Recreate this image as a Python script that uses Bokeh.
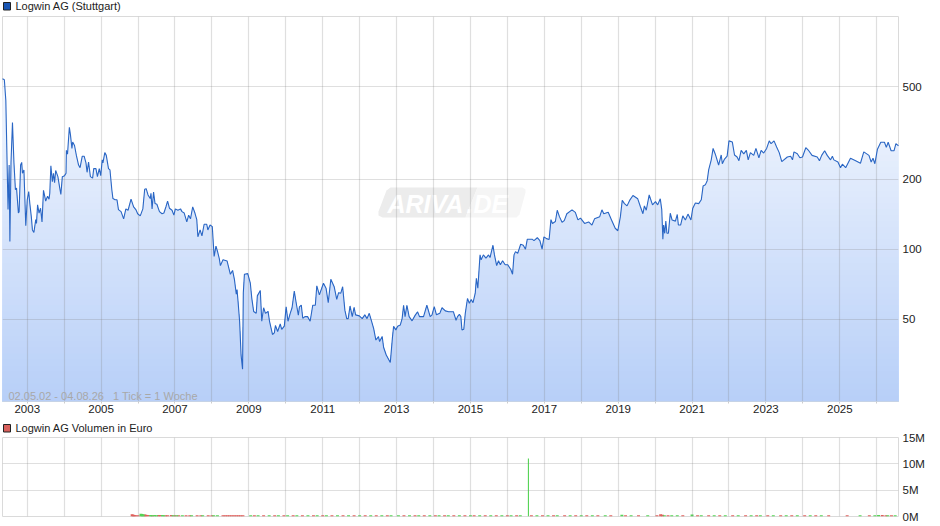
import numpy as np
from bokeh.plotting import figure
from bokeh.layouts import column
from bokeh.models import Range1d, FixedTicker, Label, PolyAnnotation, BoxAnnotation
from bokeh.embed import file_html
from bokeh.resources import INLINE

dates = [2002.33,2002.38,2002.42,2002.48,2002.51,2002.53,2002.56,2002.60,2002.64,2002.68,2002.71,2002.76,2002.78,2002.82,2002.85,2002.87,2002.91,2002.96,
2003.00,2003.04,2003.07,2003.11,2003.14,2003.18,2003.23,2003.25,2003.28,2003.32,2003.36,2003.40,2003.44,2003.50,2003.55,2003.59,2003.61,2003.64,2003.68,2003.71,2003.74,2003.77,2003.83,2003.88,2003.91,2003.95,
2004.01,2004.05,2004.06,2004.09,2004.14,2004.17,2004.21,2004.23,2004.28,2004.33,2004.39,2004.43,2004.49,2004.54,2004.59,2004.62,2004.66,2004.71,2004.77,2004.80,2004.86,2004.90,2004.95,2004.99,
2005.03,2005.05,2005.10,2005.14,2005.20,2005.24,2005.29,2005.32,2005.38,2005.43,2005.47,2005.54,2005.61,2005.67,2005.73,2005.81,2005.88,2005.94,2005.99,
2006.06,2006.13,2006.18,2006.22,2006.27,2006.33,2006.35,2006.38,2006.42,2006.46,2006.51,2006.58,2006.65,2006.70,2006.76,2006.80,2006.85,2006.92,2006.97,
2007.01,2007.08,2007.15,2007.19,2007.25,2007.32,2007.37,2007.42,2007.48,2007.54,2007.59,2007.62,2007.68,2007.73,2007.79,2007.86,2007.89,2007.95,
2008.01,2008.06,2008.11,2008.15,2008.20,2008.23,2008.30,2008.41,2008.45,2008.50,2008.56,2008.61,2008.66,2008.68,2008.71,2008.75,2008.79,2008.83,2008.85,2008.88,2008.97,
2009.04,2009.08,2009.13,2009.20,2009.23,2009.31,2009.35,2009.40,2009.45,2009.52,2009.56,2009.64,2009.69,2009.72,2009.78,2009.85,2009.89,2009.96,
2010.01,2010.06,2010.12,2010.17,2010.23,2010.28,2010.34,2010.37,2010.42,2010.46,2010.52,2010.59,2010.66,2010.73,2010.80,2010.84,2010.91,
2011.02,2011.09,2011.15,2011.22,2011.31,2011.38,2011.43,2011.49,2011.54,2011.60,2011.65,2011.69,2011.74,2011.80,2011.85,2011.89,2011.99,
2012.07,2012.14,2012.20,2012.26,2012.32,2012.38,2012.44,2012.51,2012.54,2012.61,2012.65,2012.72,2012.83,2012.89,2012.92,2012.98,
2013.03,2013.10,2013.15,2013.19,2013.23,2013.28,2013.34,2013.42,2013.51,2013.57,2013.62,2013.73,2013.82,2013.91,2013.96,
2014.02,2014.08,2014.17,2014.23,2014.32,2014.41,2014.54,2014.61,2014.65,2014.70,2014.74,2014.77,2014.82,2014.86,2014.92,2014.97,
2015.02,2015.07,2015.13,2015.16,2015.20,2015.26,2015.29,2015.35,2015.42,2015.49,2015.53,2015.61,2015.65,2015.71,2015.76,2015.81,2015.87,2015.94,
2016.01,2016.09,2016.14,2016.18,2016.22,2016.28,2016.36,2016.43,2016.49,2016.54,2016.67,2016.72,2016.81,2016.88,2016.94,2016.99,
2017.06,2017.13,2017.18,2017.22,2017.30,2017.35,2017.41,2017.48,2017.54,2017.61,2017.75,2017.84,2017.91,2017.98,
2018.09,2018.20,2018.29,2018.36,2018.50,2018.56,2018.61,2018.73,2018.82,2018.92,2018.99,
2019.06,2019.11,2019.17,2019.24,2019.31,2019.40,2019.53,2019.60,2019.67,2019.71,2019.76,2019.84,2019.93,
2020.01,2020.07,2020.14,2020.18,2020.21,2020.23,2020.26,2020.29,2020.32,2020.36,2020.41,2020.46,2020.55,2020.60,2020.63,2020.69,2020.75,2020.82,2020.89,2020.97,
2021.02,2021.09,2021.18,2021.25,2021.30,2021.36,2021.41,2021.45,2021.52,2021.57,2021.63,2021.72,2021.79,2021.82,2021.88,2021.95,
2022.00,2022.09,2022.15,2022.22,2022.27,2022.33,2022.40,2022.47,2022.52,2022.58,2022.67,2022.73,2022.81,2022.87,2022.94,
2023.02,2023.09,2023.14,2023.22,2023.29,2023.36,2023.43,2023.58,2023.67,2023.72,2023.76,2023.85,2023.92,2023.99,
2024.08,2024.16,2024.25,2024.39,2024.45,2024.51,2024.59,2024.66,2024.75,2024.80,2024.84,2024.95,
2025.02,2025.07,2025.16,2025.29,2025.43,2025.56,2025.65,2025.79,2025.85,2025.90,2025.95,
2026.02,2026.11,2026.21,2026.26,2026.31,2026.39,2026.47,2026.52,2026.59]

prices = [540,535,436,148,230,108,235,350,235,180,183,143,145,230,236,212,219,126,
163,177,157,138,121,118,134,129,155,143,150,131,179,161,169,164,174,228,195,212,193,218,205,183,172,205,
207,212,266,256,334,310,271,289,279,253,230,224,251,251,235,214,237,205,202,222,222,205,222,207,
242,235,260,253,222,219,180,165,163,163,148,145,135,149,147,164,152,148,142,
139,149,181,182,171,165,174,149,176,157,156,145,142,143,153,161,150,147,140,
149,147,149,145,143,131,140,135,152,143,134,113,121,114,128,128,121,127,
125,93,103,98,91,85,90,89,84,78,81,74,64,67,59,49,35,30.5,65,78,78.5,
71.4,61.5,54,53,63,66.5,49,56,53,54,49,43,43.7,47,44.3,47.7,45.2,46.7,
56.5,49,53,56,66,59,52,56.5,57.5,50.5,51.3,51.3,49,57.4,57.4,69.6,63.6,
71.4,68,58.9,74.3,69,60.8,65,64.7,69,54.7,50.3,50.3,57,51.3,56.3,52.2,51.7,
50.3,52.2,50.3,53,49.2,45.6,40.7,42.1,40.1,42.1,37.8,35.1,32.6,42.1,46.6,45,
46.6,47.2,50.3,57.4,51.3,57.4,51.3,49.2,52.2,53.8,51.3,51.3,57.4,51.3,52.2,
56.6,52.2,53,56,54.3,53.8,53.8,49.5,51.3,52.5,51.3,45,45.3,53,61.4,58.6,
60.8,58.9,64.7,75,68,94.5,90,94.5,91.5,94.5,92,104,94.5,85,89.2,85.7,89.2,85.7,
85.7,82,78,94.5,97.6,95.9,105,104,100,110.4,110.4,108.8,112,108.8,100,113,
111,110,134,129,131.5,147,138,130.5,132.7,142,147.6,144,133.6,136,
129,131,127,135,138,147.6,142,144,133.6,123,120,
138,162,157,153.5,162,170,164.6,152.6,142,153.5,147,171,155,
160,155,164.6,148,110.4,127,117,132,117,117,142.7,133.5,132,141,127,127,139,133.5,141.5,133.5,
150,158,157,163,187,189,197,219,242,271,256,230,254,233,244,251,
292,289,254,249,240,266,257,266,242,260,253,271,247,266,259,
271,292,284,292,275,260,238,249,251,242,262,257,247,249,
273,265,253,249,240,253,265,253,242,251,242,237,
224,232,224,246,240,234,262,253,237,246,233,
269,288,288,274,288,265,265,284,278]

vol_up_dates = [2006.08,2006.11,2006.14,2006.34,2006.37,2006.45,2006.50,2006.66,2006.70,2006.95,2007.05,2007.20,2007.45,2007.75,2008.05,2008.15,2009.05,2009.25,2009.55,2009.80,2010.05,2010.30,2010.60,2010.85,2011.10,2011.40,2011.70,2012.00,2012.30,2012.60,2012.85,2013.05,2013.35,2013.60,2013.90,2014.15,2014.40,2014.70,2015.00,2015.25,2015.55,2015.85,2016.10,2016.35,2016.57,2016.80,2017.10,2017.35,2017.70,2018.00,2018.30,2018.65,2019.10,2019.35,2019.80,2020.25,2020.45,2020.60,2021.00,2021.25,2021.60,2021.90,2022.25,2022.60,2022.85,2023.20,2023.55,2023.85,2024.20,2024.50,2025.55,2025.95,2026.05,2026.30,2026.50]
vol_up = [0.5,0.48,0.4,0.3,0.25,0.3,0.25,0.3,0.25,0.25,0.25,0.24,0.22,0.22,0.24,0.22,0.22,0.22,0.25,0.22,0.22,0.25,0.22,0.25,0.22,0.22,0.22,0.25,0.22,0.22,0.25,0.22,0.22,0.25,0.22,0.22,0.25,0.22,0.22,0.25,0.22,0.22,0.25,0.22,11.0,0.22,0.25,0.22,0.22,0.25,0.22,0.22,0.34,0.22,0.22,0.25,0.26,0.25,0.4,0.25,0.22,0.25,0.22,0.22,0.25,0.22,0.22,0.22,0.25,0.22,0.22,0.26,0.28,0.26,0.25]

vol_down_dates = [2005.84,2005.87,2005.90,2005.94,2006.00,2006.18,2006.21,2006.27,2006.40,2006.55,2006.60,2006.75,2006.80,2006.90,2007.00,2007.10,2007.30,2007.40,2007.60,2007.70,2007.90,2008.00,2008.30,2008.36,2008.42,2008.48,2008.54,2008.60,2008.66,2008.72,2008.78,2008.84,2009.15,2009.40,2009.70,2009.95,2010.20,2010.45,2010.75,2011.00,2011.25,2011.55,2011.85,2012.15,2012.45,2012.75,2013.20,2013.50,2013.75,2014.05,2014.30,2014.55,2014.85,2015.10,2015.40,2015.70,2016.00,2016.25,2016.65,2016.95,2017.25,2017.55,2017.85,2018.15,2018.45,2018.80,2019.20,2019.55,2020.05,2020.15,2020.20,2020.35,2020.75,2021.15,2021.45,2021.75,2022.10,2022.45,2022.75,2023.05,2023.40,2023.70,2024.05,2024.35,2024.70,2025.20,2025.80,2026.15,2026.25,2026.40]
vol_down = [0.45,0.35,0.3,0.25,0.25,0.4,0.35,0.3,0.25,0.3,0.28,0.25,0.25,0.28,0.25,0.25,0.24,0.24,0.24,0.24,0.22,0.24,0.24,0.24,0.24,0.24,0.24,0.24,0.24,0.24,0.24,0.24,0.22,0.22,0.24,0.22,0.22,0.24,0.22,0.22,0.24,0.22,0.22,0.24,0.22,0.22,0.24,0.22,0.22,0.24,0.22,0.22,0.24,0.22,0.24,0.22,0.22,0.24,0.22,0.22,0.24,0.22,0.22,0.24,0.22,0.22,0.24,0.22,0.26,0.42,0.35,0.26,0.22,0.24,0.22,0.22,0.24,0.22,0.22,0.24,0.22,0.22,0.24,0.22,0.22,0.22,0.22,0.3,0.26,0.25]

year_ticks = list(range(2003, 2027))
price_ticks = [50, 100, 200, 500]
volume_ticks = [0, 5, 10, 15]
year_labels = {y: (str(y) if y % 2 else "") for y in year_ticks}
legend_price = "Logwin AG (Stuttgart)"
legend_volume = "Logwin AG Volumen in Euro"
range_note = "02.05.02 - 04.08.26\u00a0\u00a0\u00a01 Tick = 1 Woche"

FONT = "Liberation Sans"
GRID = "#808080"
GRID_ALPHA = 0.25
x_range = (2002.33, 2026.59)

def style(p):
    p.outline_line_color = "#dadada"
    p.background_fill_color = "#ffffff"
    for g in (p.xgrid, p.ygrid):
        g.grid_line_color = GRID
        g.grid_line_alpha = GRID_ALPHA
        g.grid_line_width = 1.2
        g.level = "glyph"
    p.xgrid.ticker = FixedTicker(ticks=year_ticks)
    ax = p.yaxis[0]
    ax.axis_line_color = None
    ax.major_tick_line_color = None
    ax.minor_tick_line_color = None
    ax.major_label_text_font = FONT
    ax.major_label_text_font_size = "11.5px"
    ax.major_label_text_color = "#222222"
    ax.major_tick_out = 0
    ax.major_tick_in = 0
    ax.major_label_standoff = 4

def legend_strip(height, box_top, colour, text):
    s = figure(width=940, height=height, output_backend="svg", toolbar_location=None,
               x_range=Range1d(0, 940), y_range=Range1d(0, height), x_axis_location=None, y_axis_location=None,
               min_border=0, outline_line_color=None)
    s.grid.visible = False
    s.add_layout(BoxAnnotation(left=3, right=10, top=box_top, bottom=box_top + 7.5,
                               left_units="canvas", right_units="canvas", top_units="canvas", bottom_units="canvas",
                               fill_color=colour, fill_alpha=1, line_color="#222222", line_alpha=1, line_width=1))
    s.add_layout(Label(x=15, y=box_top + 3, x_units="canvas", y_units="canvas", text=text, text_color="#222222",
                       text_font=FONT, text_font_size="11px", text_baseline="middle"))
    return s

strip1 = legend_strip(15, 2, "#1a56b4", legend_price)
strip2 = legend_strip(16, 4, "#d9605c", legend_volume)

OFF = 15  # canvas offset of the main panel below the legend strip
p1 = figure(width=940, height=405, output_backend="svg", toolbar_location=None,
            x_range=Range1d(*x_range), y_range=Range1d(22.15, 1000), y_axis_type="log",
            y_axis_location="right", min_border_left=2, min_border_right=42, min_border_top=1, min_border_bottom=19)
style(p1)
p1.border_fill_color = "#ffffff"
p1.ygrid.ticker = FixedTicker(ticks=price_ticks)
p1.yaxis[0].ticker = FixedTicker(ticks=price_ticks)
p1.yaxis[0].major_label_overrides = {t: str(t) for t in price_ticks}
xa = p1.xaxis[0]
xa.ticker = FixedTicker(ticks=year_ticks)
xa.major_label_overrides = year_labels
xa.major_label_text_font = FONT
xa.major_label_text_font_size = "11.5px"
xa.major_label_text_color = "#222222"
xa.axis_line_color = "#c6d3e6"
xa.major_tick_line_color = "#cccccc"
xa.minor_tick_line_color = None
xa.major_tick_out = 2
xa.major_tick_in = 0
xa.major_label_standoff = 1

# vertical gradient under the line, white at the top of the frame
x = np.array(dates)
y = np.array(prices, dtype=float)
bands = 64
levels = np.geomspace(1000, 22.15, bands + 1)
top_rgb = np.array([255, 255, 255])
bot_rgb = np.array([183, 207, 248])
for i in range(bands):
    if levels[i + 1] > y.max():
        continue
    t = (i + 0.5) / bands
    c = top_rgb + (bot_rgb - top_rgb) * t
    colour = "#%02x%02x%02x" % tuple(int(round(v)) for v in c)
    p1.varea(x=x, y1=22.15, y2=np.minimum(y, levels[i]), fill_color=colour, level="underlay")

# watermark
p1.add_layout(PolyAnnotation(xs=[390,477,465,382,378,378,386], ys=[187-OFF,187-OFF,217-OFF,217-OFF,215-OFF,211-OFF,190-OFF],
                             xs_units="canvas", ys_units="canvas", fill_color="#ececec", fill_alpha=1,
                             line_color=None, level="underlay"))
p1.add_layout(PolyAnnotation(xs=[477,522,525,525,519,516,465], ys=[187-OFF,187-OFF,189-OFF,192-OFF,214-OFF,217-OFF,217-OFF],
                             xs_units="canvas", ys_units="canvas", fill_color="#f5f5f5", fill_alpha=1,
                             line_color=None, level="underlay"))
for tx, txt in ((387, "ARIVA"), (466, ".DE")):
    p1.add_layout(Label(x=tx, y=203-OFF, x_units="canvas", y_units="canvas", text=txt, text_color="#ffffff",
                        text_font=FONT, text_font_style="bold italic", text_font_size="25px",
                        text_baseline="middle", level="underlay"))

p1.line(x, y, line_color="#2a66c4", line_width=1.1, level="guide")

p1.add_layout(Label(x=8, y=395-OFF, x_units="canvas", y_units="canvas", text=range_note, text_color="#a8a8a8",
                    text_font=FONT, text_font_size="11px", text_baseline="middle", level="annotation"))

# the volume panel overlaps the legend strip by 7px so that its 15M label stays centred on the top line
p2 = figure(width=940, height=97, output_backend="svg", toolbar_location=None,
            x_range=Range1d(*x_range), y_range=Range1d(0, 15),
            y_axis_location="right", x_axis_location=None,
            min_border_left=2, min_border_right=42, min_border_top=8, min_border_bottom=10,
            margin=(-7, 0, 0, 0))
style(p2)
p2.border_fill_color = None
p2.ygrid.ticker = FixedTicker(ticks=volume_ticks)
p2.yaxis[0].ticker = FixedTicker(ticks=volume_ticks)
p2.yaxis[0].major_label_overrides = {t: f"{t}M" for t in volume_ticks}
p2.vbar(x=vol_down_dates, top=vol_down, bottom=0, width=0.08, fill_color="#e0605c", line_color=None)
p2.vbar(x=vol_up_dates, top=vol_up, bottom=0, width=[0.03 if v > 5 else 0.08 for v in vol_up],
        fill_color="#55d455", line_color=None)

page = column(strip1, p1, strip2, p2, spacing=0, margin=0)
open("out.html", "w").write(file_html(page, INLINE))
